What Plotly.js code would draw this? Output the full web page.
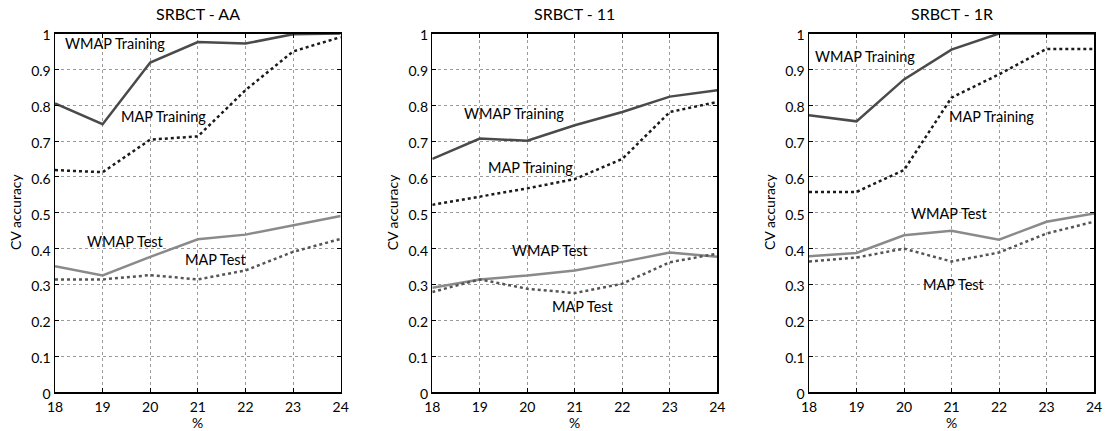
<!DOCTYPE html>
<html>
<head>
<meta charset="utf-8">
<script src="https://cdn.plot.ly/plotly-3.0.1.min.js"></script>
<style>html,body{margin:0;padding:0;background:#fff;}#chart{width:1106px;height:431px;}</style>
</head>
<body>
<div id="chart"></div>
<script>
// ---- data ----
const pct = [18, 19, 20, 21, 22, 23, 24];
const panelTitles = ["SRBCT - AA", "SRBCT - 11", "SRBCT - 1R"];

// SRBCT - AA
const aaWmapTrain = [0.805, 0.747, 0.919, 0.976, 0.972, 0.998, 1.0];
const aaMapTrain  = [0.619, 0.613, 0.704, 0.713, 0.842, 0.950, 0.990];
const aaWmapTest  = [0.351, 0.325, 0.377, 0.426, 0.439, 0.464, 0.491];
const aaMapTest   = [0.314, 0.314, 0.326, 0.314, 0.339, 0.391, 0.427];

// SRBCT - 11
const e11WmapTrain = [0.650, 0.707, 0.701, 0.744, 0.781, 0.824, 0.842];
const e11MapTrain  = [0.522, 0.544, 0.568, 0.594, 0.650, 0.781, 0.809];
const e11WmapTest  = [0.291, 0.314, 0.325, 0.339, 0.363, 0.389, 0.377];
const e11MapTest   = [0.279, 0.314, 0.288, 0.276, 0.302, 0.362, 0.386];

// SRBCT - 1R
const r1WmapTrain = [0.772, 0.755, 0.872, 0.955, 1.0, 1.0, 1.0];
const r1MapTrain  = [0.558, 0.558, 0.619, 0.821, 0.886, 0.957, 0.957];
const r1WmapTest  = [0.379, 0.388, 0.437, 0.450, 0.425, 0.475, 0.498];
const r1MapTest   = [0.364, 0.375, 0.400, 0.364, 0.389, 0.442, 0.475];

// line labels: [text, x, y] per panel
const labelTexts = ["WMAP Training", "MAP Training", "WMAP Test", "MAP Test"];
const labelX = [[19.26, 20.28, 19.48, 21.39], [19.71, 20.07, 20.48, 21.17], [19.18, 21.84, 20.95, 21.05]];
const labelY = [[0.971, 0.769, 0.419, 0.371], [0.776, 0.627, 0.394, 0.238], [0.935, 0.768, 0.498, 0.301]];

const yTicks = [0, 0.1, 0.2, 0.3, 0.4, 0.5, 0.6, 0.7, 0.8, 0.9, 1];

// ---- styling ----
const FONT = "Lato, 'Liberation Sans', Arial, sans-serif";
const styles = [
  {color: "#4a4a4a", dash: "solid", width: 2.5},
  {color: "#1a1a1a", dash: "dot", width: 2.5},
  {color: "#8a8a8a", dash: "solid", width: 2.5},
  {color: "#555555", dash: "dot", width: 2.5}
];
const panels = [
  [aaWmapTrain, aaMapTrain, aaWmapTest, aaMapTest],
  [e11WmapTrain, e11MapTrain, e11WmapTest, e11MapTest],
  [r1WmapTrain, r1MapTrain, r1WmapTest, r1MapTest]
];
const W = 1106, H = 431;
const xDomPx = [[55, 340.7], [432.3, 717.3], [809, 1094]];
const yTopPx = 33.5, yBotPx = 392;
const yDom = [1 - yBotPx / H, 1 - yTopPx / H];

const traces = [];
const layout = {
  width: W, height: H,
  margin: {l: 0, r: 0, t: 0, b: 0},
  paper_bgcolor: "#fff", plot_bgcolor: "#fff",
  showlegend: false,
  font: {family: FONT, size: 14, color: "#000"},
  annotations: []
};

panels.forEach((series, p) => {
  const xa = p === 0 ? "x" : "x" + (p + 1);
  const ya = p === 0 ? "y" : "y" + (p + 1);
  series.forEach((vals, s) => {
    traces.push({
      x: pct, y: vals, type: "scatter", mode: "lines",
      xaxis: xa, yaxis: ya,
      line: {color: styles[s].color, dash: styles[s].dash, width: styles[s].width},
      hoverinfo: "skip"
    });
  });
  const axCommon = {
    showline: true, linecolor: "#000", linewidth: 1.5, mirror: "ticks",
    ticks: "inside", ticklen: 4, tickcolor: "#000", tickwidth: 1,
    showgrid: true, gridcolor: "#9a9a9a", griddash: "dot", gridwidth: 1,
    zeroline: false, tickfont: {family: FONT, size: 14, color: "#000"}
  };
  layout["xaxis" + (p === 0 ? "" : p + 1)] = Object.assign({}, axCommon, {
    domain: [xDomPx[p][0] / W, xDomPx[p][1] / W],
    range: [18, 24], tickvals: pct, ticktext: pct.map(String),
    ticklabelstandoff: 2,
    anchor: ya
  });
  layout["yaxis" + (p === 0 ? "" : p + 1)] = Object.assign({}, axCommon, {
    domain: yDom, range: [0, 1], tickvals: yTicks, ticktext: yTicks.map(String),
    ticklabelshift: 2,
    anchor: xa
  });
  const cx = (xDomPx[p][0] + xDomPx[p][1]) / 2 / W;
  // panel title
  layout.annotations.push({
    text: panelTitles[p], xref: "paper", yref: "paper",
    x: cx, y: 1 - 14 / H, xanchor: "center", yanchor: "middle",
    showarrow: false, font: {family: FONT, size: 16, color: "#000"}
  });
  // x-axis title
  layout.annotations.push({
    text: "%", xref: "paper", yref: "paper",
    x: cx, y: 1 - 422 / H, xanchor: "center", yanchor: "middle",
    showarrow: false, font: {family: FONT, size: 14, color: "#000"}
  });
  // y-axis title
  layout.annotations.push({
    text: "CV accuracy", xref: "paper", yref: "paper",
    x: (xDomPx[p][0] - 40) / W, y: 1 - 212 / H, xanchor: "center", yanchor: "middle",
    textangle: -90, showarrow: false, font: {family: FONT, size: 14, color: "#000"}
  });
  // line labels
  labelTexts.forEach((t, i) => {
    layout.annotations.push({
      text: t, xref: xa, yref: ya, x: labelX[p][i], y: labelY[p][i],
      xanchor: "center", yanchor: "middle", showarrow: false,
      font: {family: FONT, size: 14.5, color: "#000"}
    });
  });
});

Plotly.newPlot("chart", traces, layout, {displayModeBar: false, staticPlot: true});
</script>
</body>
</html>
